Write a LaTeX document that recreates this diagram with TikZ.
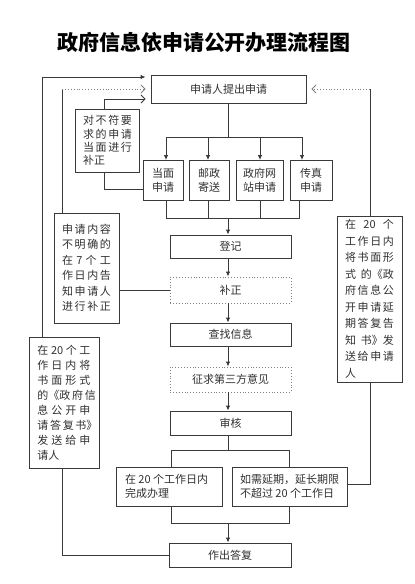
\documentclass[tikz,border=0pt]{standalone}
\usepackage{fontspec}
\newfontfamily\cjk{Noto Sans CJK SC}
\usetikzlibrary{arrows.meta}
\newcommand\spreadline[2]{\makebox[#1][s]{#2}}
\definecolor{linec}{HTML}{3A3A3A}
\definecolor{textc}{HTML}{303030}
\begin{document}
\begin{tikzpicture}[x=1pt,y=-1pt,
  box/.style={draw=linec, line width=0.9pt, inner sep=0pt, text=textc,
    font=\cjk\fontsize{11}{13.5}\selectfont, align=center},
  dbox/.style={box, draw=gray, dotted},
  conn/.style={draw=linec, line width=0.9pt},
  arr/.style={conn, -{Latex[length=5pt,width=4.5pt]}},
  barb/.style={conn, -{Straight Barb[length=4pt,width=8pt]}, shorten >=5pt},
  dbarb/.style={barb, draw=gray, dotted}]
\useasboundingbox (0,0) rectangle (415,584);

\node[font=\cjk\bfseries\fontsize{21}{24}\selectfont, text=black] (title) at (204,42) {政府信息依申请公开办理流程图};

% nodes
\node[box, minimum width=155pt, minimum height=28pt] (top) at (228.5,89) {申请人提出申请};
\node[box, minimum width=64pt, minimum height=63pt, font=\cjk\fontsize{11}{13.3}\selectfont] (fix) at (107,140.5)
  {\spreadline{48pt}{对 不 符 要}\\\spreadline{48pt}{求 的 申 请}\\\spreadline{48pt}{当 面 进 行}\\\makebox[48pt][l]{补正}};
\node[box, minimum width=40pt, minimum height=40pt] (b1) at (163,180.5) {当面\\申请};
\node[box, minimum width=40pt, minimum height=40pt] (b2) at (209,180.5) {邮政\\寄送};
\node[box, minimum width=47pt, minimum height=40pt] (b3) at (259.5,180.5) {政府网\\站申请};
\node[box, minimum width=42pt, minimum height=40pt] (b4) at (311,180.5) {传真\\申请};
\node[box, minimum width=121pt, minimum height=23pt] (reg) at (230.5,246.5) {登记};
\node[dbox, minimum width=121pt, minimum height=26pt] (sup) at (230.5,290) {补正};
\node[box, minimum width=121pt, minimum height=23pt] (find) at (230.5,334.5) {查找信息};
\node[dbox, minimum width=121pt, minimum height=25pt] (third) at (230.5,379.5) {征求第三方意见};
\node[box, minimum width=121pt, minimum height=24pt] (review) at (230.5,423) {审核};
\node[box, minimum width=106pt, minimum height=39pt, align=left] (done) at (169,486.5) {在 20 个工作日内\\完成办理\phantom{工作日内}};
\node[box, minimum width=115pt, minimum height=39pt, align=left] (ext) at (289.5,486.5) {如需延期，延长期限\\不超过 20 个工作日};
\node[box, minimum width=122pt, minimum height=24pt] (reply) at (230,555) {作出答复};
\node[box, minimum width=65pt, minimum height=110pt, font=\cjk\fontsize{11}{15.5}\selectfont] (unclear) at (86.5,268)
  {\spreadline{49pt}{申 请 内 容}\\\spreadline{49pt}{不 明 确 的}\\\spreadline{49pt}{在 7 个 工}\\\spreadline{49pt}{作 日 内 告}\\\spreadline{49pt}{知 申 请 人}\\\spreadline{49pt}{进 行 补 正}};
\node[box, minimum width=70pt, minimum height=131pt, font=\cjk\fontsize{11}{15}\selectfont] (leftbox) at (64,402.5)
  {\spreadline{53pt}{在 20 个 工}\\\spreadline{53pt}{作 日 内 将}\\\spreadline{53pt}{书 面 形 式}\\\spreadline{53pt}{的《政 府 信}\\\spreadline{53pt}{息 公 开 申}\\\spreadline{53pt}{请 答 复 书》}\\\spreadline{53pt}{发 送 给 申}\\\makebox[53pt][l]{请人}};
\node[box, minimum width=65pt, minimum height=166pt, font=\cjk\fontsize{11}{16.5}\selectfont] (rightbox) at (369.5,299)
  {\spreadline{49pt}{在 20 个}\\\spreadline{49pt}{工 作 日 内}\\\spreadline{49pt}{将 书 面 形}\\\spreadline{49pt}{式 的《政}\\\spreadline{49pt}{府 信 息 公}\\\spreadline{49pt}{开 申 请 延}\\\spreadline{49pt}{期 答 复 告}\\\spreadline{49pt}{知 书》发}\\\spreadline{49pt}{送 给 申 请}\\\makebox[49pt][l]{人}};

% helper coordinates
\coordinate (spine) at (228,0);
\coordinate (c1) at (166,0);
\coordinate (c2) at (208,0);
\coordinate (c3) at (260,0);
\coordinate (c4) at (302,0);
\coordinate (c4b) at (299,0);
\coordinate (d1) at (171,0);
\coordinate (d2) at (289,0);
\coordinate (fixcol) at (104,0);
\coordinate (ucol) at (62,0);
\coordinate (lcol) at (42,0);
\coordinate (rcol) at (370,0);
\coordinate (ya) at (0,77);
\coordinate (yb) at (0,89);
\coordinate (yc) at (0,99);
\coordinate (yf) at (0,189);
\coordinate (bus1) at (0,137);
\coordinate (bus2) at (0,218);
\coordinate (bus3) at (0,450);
\coordinate (bus4) at (0,523);

% top to four channels
\draw[conn] (spine |- top.south) -- (spine |- bus1);
\draw[conn] (c1 |- bus1) -- (c4 |- bus1);
\draw[arr] (c1 |- bus1) -- (c1 |- b1.north);
\draw[arr] (c2 |- bus1) -- (c2 |- b2.north);
\draw[arr] (c3 |- bus1) -- (c3 |- b3.north);
\draw[arr] (c4 |- bus1) -- (c4 |- b4.north);
% channels to register
\draw[conn] (c1 |- b1.south) -- (c1 |- bus2) -- (c4b |- bus2) -- (c4b |- b4.south);
\draw[conn] (c2 |- b2.south) -- (c2 |- bus2);
\draw[conn] (c3 |- b3.south) -- (c3 |- bus2);
\draw[arr] (spine |- bus2) -- (spine |- reg.north);
% main column
\draw[arr] (spine |- reg.south) -- (spine |- sup.north);
\draw[arr] (spine |- sup.south) -- (spine |- find.north);
\draw[arr] (spine |- find.south) -- (spine |- third.north);
\draw[arr] (spine |- third.south) -- (spine |- review.north);
\draw[conn] (spine |- review.south) -- (spine |- bus3);
\draw[conn] (d1 |- bus3) -- (d2 |- bus3);
\draw[conn] (d1 |- bus3) -- (d1 |- done.north);
\draw[conn] (d2 |- bus3) -- (d2 |- ext.north);
\draw[conn] (d1 |- done.south) -- (d1 |- bus4) -- (d2 |- bus4) -- (d2 |- ext.south);
\draw[arr] (spine |- bus4) -- (spine |- reply.north);

% correction loops
\draw[barb] (fixcol |- fix.north) -- (fixcol |- yc) -- (top.west |- yc);
\draw[conn] (fixcol |- fix.south) -- (fixcol |- yf) -- (b1.west |- yf);
\draw[conn] (ucol |- unclear.north) -- (ucol |- yb);
\draw[dbarb] (ucol |- yb) -- (top.west |- yb);
\draw[conn] (unclear.east |- sup.west) -- (sup.west);
\draw[conn, -{Latex[length=5pt,width=4.5pt]}, shorten >=5pt] (lcol |- leftbox.north) -- (lcol |- ya) -- (top.west |- ya);
\draw[conn] (ucol |- leftbox.south) -- (ucol |- reply.west) -- (reply.west);
\draw[conn] (ext.east |- 0,484) -- (rcol |- 0,484) -- (rcol |- rightbox.south);
\draw[conn] (rcol |- rightbox.north) -- (rcol |- yb);
\draw[dbarb] (rcol |- yb) -- (top.east |- yb);
\end{tikzpicture}
\end{document}
